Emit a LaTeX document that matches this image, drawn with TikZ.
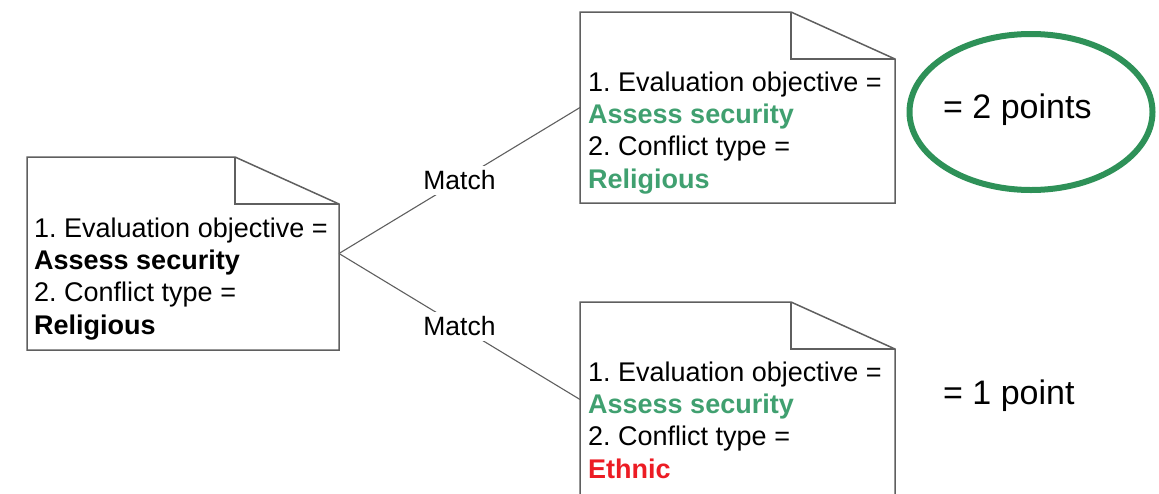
\documentclass[tikz,border=0pt]{standalone}
\usepackage{fontspec}
\setmainfont{Liberation Sans}
\usetikzlibrary{shapes,arrows,positioning,calc}
\frenchspacing

\definecolor{okgreen}{RGB}{64,160,112}
\definecolor{ringgreen}{RGB}{46,145,88}
\definecolor{badred}{RGB}{236,28,36}
\definecolor{edgegray}{RGB}{95,95,95}

% 便笺外框(带折角)
\newcommand{\notefold}[1]{
  \draw[edgegray, line width=1.5pt, line join=miter]
    (#1.north west) -- ([xshift=-104pt]#1.north east) -- ([yshift=-47pt]#1.north east)
    -- (#1.south east) -- (#1.south west) -- cycle;
  \draw[edgegray, line width=1.5pt]
    ([xshift=-104pt]#1.north east) |- ([yshift=-47pt]#1.north east);
}

\begin{document}
\begin{tikzpicture}[x=1pt, y=-1pt,
  notebox/.style={rectangle, inner sep=0pt, outer sep=0pt, minimum width=315pt, minimum height=191pt},
  notetext/.style={align=left, anchor=base west, inner sep=0pt, font=\fontsize{27}{32.3}\selectfont},
  matchlabel/.style={fill=white, inner sep=5pt, font=\fontsize{26.5}{30}\selectfont},
  pointtext/.style={anchor=base west, inner sep=0pt, font=\fontsize{34}{40}\selectfont},
  link/.style={draw=edgegray, line width=1.1pt}]
\path[use as bounding box, clip] (0,0) rectangle (1159,493);

% 左侧便笺
\node[notebox, minimum width=312pt, minimum height=193pt] (leftnote) at (183,253.5) {};
\notefold{leftnote}
\node[notetext] (lefttext) at (34,334) {1. Evaluation objective =\\
\textbf{Assess security}\\
2. Conflict type =\\
\textbf{Religious}};

% 右上便笺
\node[notebox] (topnote) at (737.5,107.5) {};
\notefold{topnote}
\node[notetext] (toptext) at (588,188) {1. Evaluation objective =\\
\textcolor{okgreen}{\textbf{Assess security}}\\
2. Conflict type =\\
\textcolor{okgreen}{\textbf{Religious}}};

% 右下便笺
\node[notebox, minimum height=195pt] (botnote) at (737.5,399.5) {};
\notefold{botnote}
\node[notetext] (bottext) at (588,478) {1. Evaluation objective =\\
\textcolor{okgreen}{\textbf{Assess security}}\\
2. Conflict type =\\
\textcolor{badred}{\textbf{Ethnic}}};

% 匹配连线
\draw[link] (leftnote.east) -- node[matchlabel] (upmatch) {Match} (topnote.west);
\draw[link] (leftnote.east) -- node[matchlabel] (downmatch) {Match} (botnote.west);

% 得分
\node[draw=ringgreen, line width=6pt, ellipse, minimum width=243pt, minimum height=156pt] (ring) at (1031,112) {};
\node[pointtext] (twopts) at (943,118) {= 2 points};
\node[pointtext] (onept) at (943,404) {= 1 point};
\end{tikzpicture}
\end{document}
